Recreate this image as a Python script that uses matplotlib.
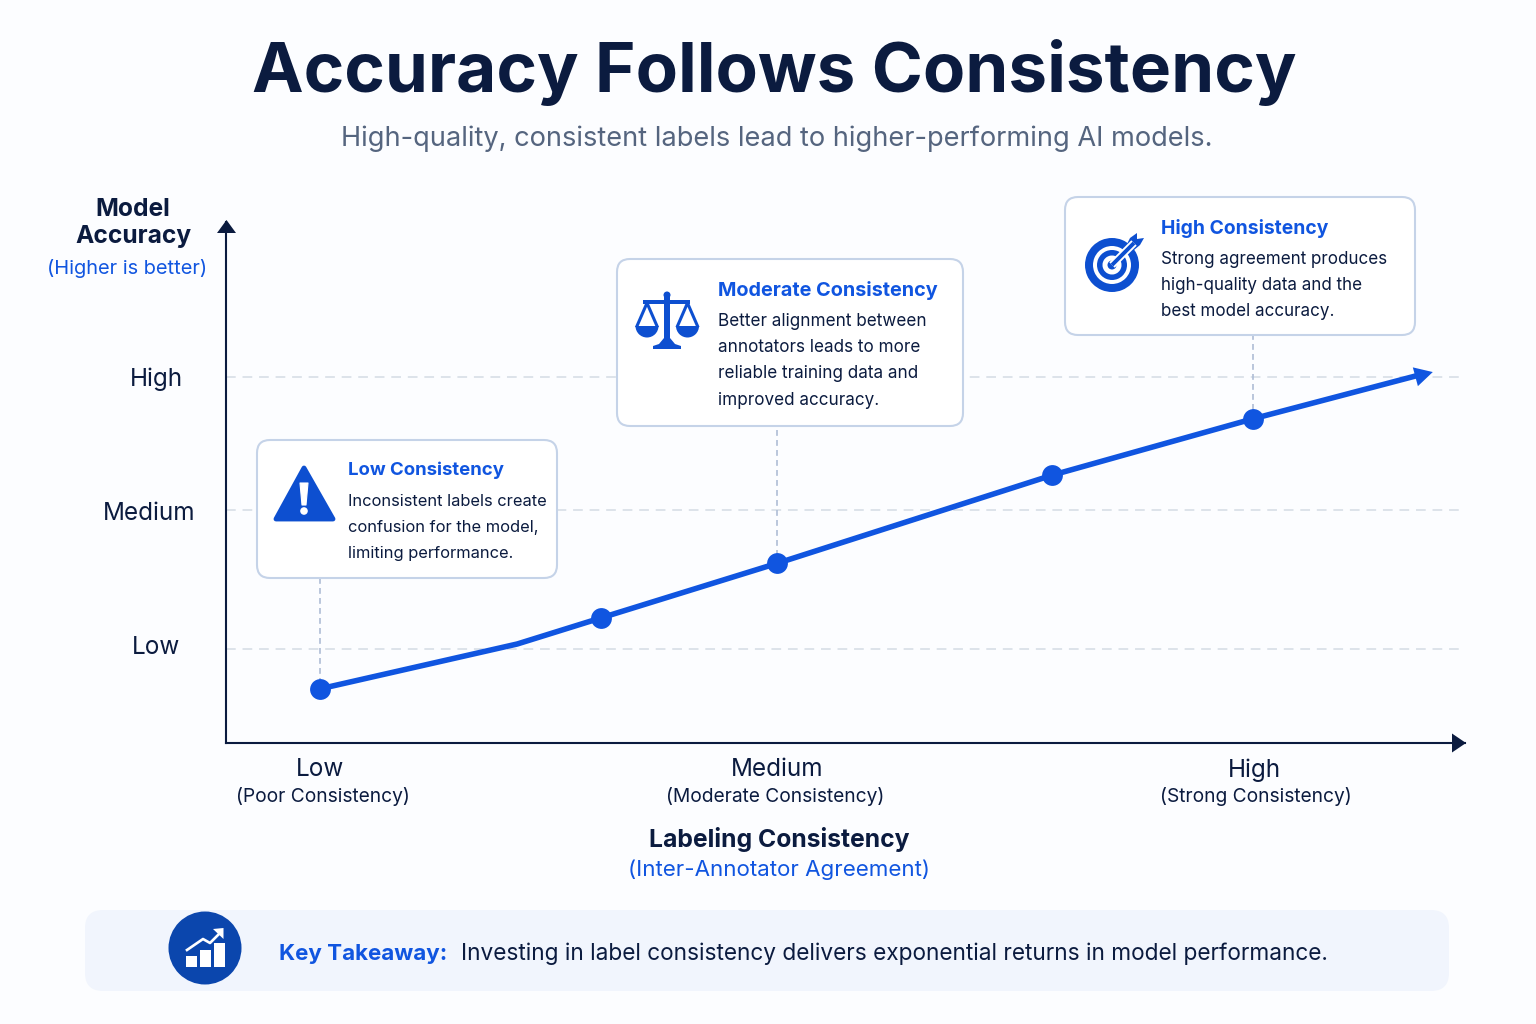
import matplotlib
matplotlib.use('Agg')
import numpy as np
import matplotlib.pyplot as plt
from matplotlib.patches import FancyBboxPatch, Polygon, Circle, Wedge, Rectangle

plt.rcParams['font.family'] = ['Inter', 'DejaVu Sans']

# Valores (escala 0-100 nos dois eixos)
line_x = [7.6, 23.5, 30.25, 44.5, 66.67, 82.85, 97.4]
line_y = [10.4, 19.0, 24.0, 34.5, 51.4, 62.2, 71.2]
marker_x = [7.6, 30.25, 44.5, 66.67, 82.85]
marker_y = [10.4, 24.0, 34.5, 51.4, 62.2]

x_ticks = [7.6, 44.5, 82.85]
x_labels = ['Low', 'Medium', 'High']
x_sublabels = ['(Poor Consistency)', '(Moderate Consistency)', '(Strong Consistency)']
y_ticks = [18.0, 44.7, 70.2]
y_labels = ['Low', 'Medium', 'High']

callout_x = [7.6, 44.5, 82.85]
callout_y = [10.4, 34.5, 62.2]
callout_top = [31.7, 60.0, 78.5]

callout_titles = ['Low Consistency', 'Moderate Consistency', 'High Consistency']
callout_bodies = [
    ['Inconsistent labels create', 'confusion for the model,', 'limiting performance.'],
    ['Better alignment between', 'annotators leads to more', 'reliable training data and', 'improved accuracy.'],
    ['Strong agreement produces', 'high-quality data and the', 'best model accuracy.'],
]

BG = '#fcfdff'
NAVY = '#0b1b3f'
BLUE = '#1055e0'
ICON = '#0d4fd0'
BORDER = '#c5d3e8'
GRID = '#dde3ea'

fig = plt.figure(figsize=(15.36, 10.24), dpi=100, facecolor=BG)

# Eixos do gráfico
W, H = 1536, 1024
ax = fig.add_axes([226 / W, 1 - 743 / H, (1465 - 226) / W, (743 - 222) / H])
ax.set_xlim(0, 100)
ax.set_ylim(0, 100)
ax.patch.set_alpha(0)
for s in ['top', 'right']:
    ax.spines[s].set_visible(False)
for s in ['left', 'bottom']:
    ax.spines[s].set_color(NAVY)
    ax.spines[s].set_linewidth(1.5)
ax.set_xticks([])
ax.set_yticks([])

for yt in y_ticks:
    ax.axhline(yt, color=GRID, lw=1.4, dashes=(5, 3.5), zorder=1)
for cx, cy, ct in zip(callout_x, callout_y, callout_top):
    ax.plot([cx, cx], [ct, cy], color='#aebdd6', lw=1.2, dashes=(3.5, 2.5), zorder=1)

ax.plot(line_x[:-1] + [96.1], line_y[:-1] + [70.5], color=BLUE, lw=4, zorder=3,
        solid_capstyle='butt')
ax.annotate('', xy=(line_x[-1], line_y[-1]), xytext=(96.0, line_y[-1] - 0.9),
            arrowprops=dict(arrowstyle='-|>,head_length=0.65,head_width=0.35', color=BLUE,
                            mutation_scale=20, lw=0, shrinkA=0, shrinkB=0), zorder=3)
ax.plot(marker_x, marker_y, 'o', color=BLUE, ms=15, mec='none', zorder=4)

# Camada em pixels para caixas, ícones e textos
ov = fig.add_axes([0, 0, 1, 1])
ov.set_xlim(0, W)
ov.set_ylim(H, 0)
ov.axis('off')
ov.patch.set_alpha(0)

# pontas dos eixos
ov.add_patch(Polygon([(226.5, 220), (217, 233), (236, 233)], closed=True, fc=NAVY, ec='none'))
ov.add_patch(Polygon([(1466, 743), (1452, 733.5), (1452, 752.5)], closed=True, fc=NAVY, ec='none'))


def txt(x, y, s, size, color=NAVY, weight='normal', ha='center'):
    ov.text(x, y, s, fontsize=size, color=color, fontweight=weight, ha=ha, va='center')


def box(x0, y0, x1, y1):
    ov.add_patch(FancyBboxPatch((x0 + 12, y0 + 12), x1 - x0 - 24, y1 - y0 - 24,
                                boxstyle='round,pad=12,rounding_size=13',
                                fc='white', ec=BORDER, lw=1.5))


txt(774, 73, 'Accuracy Follows Consistency', 49.8, weight='bold')
txt(777, 139, 'High-quality, consistent labels lead to higher-performing AI models.', 19.6,
    color='#55657f')

txt(133, 209, 'Model', 17.7, weight='bold')
txt(133, 237, 'Accuracy', 17.7, weight='bold')
txt(127, 268, '(Higher is better)', 14.4, color=BLUE)

for lab, xc, yc in zip(y_labels, [156.5, 149, 156.5], [647, 513, 379]):
    txt(xc, yc, lab, 17.5)
for xt, lab, sub, dx, dl in zip(x_ticks, x_labels, x_sublabels, [3, -2, 3], [0, 0, 2]):
    px = 226 + xt * 12.39
    txt(px + dl, 770, lab, 17.5)
    txt(px + dx, 796, sub, 13.8)

txt(779, 839, 'Labeling Consistency', 17.8, weight='bold')
txt(779, 870, '(Inter-Annotator Agreement)', 16.1, color=BLUE)

# Caixas de texto
boxes = [(257, 440, 557, 578), (617, 259, 963, 426), (1065, 197, 1415, 335)]
text_x = [348, 718, 1161]
title_y = [470, 290, 228]
title_size = [13.4, 14.3, 13.9]
body_size = [11.85, 12.3, 12.25]
for n, (b, tx, ty, title, body) in enumerate(zip(boxes, text_x, title_y, callout_titles, callout_bodies)):
    box(*b)
    txt(tx, ty, title, title_size[n], color=BLUE, weight='bold', ha='left')
    for i, line in enumerate(body):
        txt(tx, ty + 31 + i * 26.4, line, body_size[n], ha='left')

# Ícone: triângulo de alerta
ov.add_patch(Polygon([(304, 468), (276, 519), (333, 519)], closed=True, fc=ICON, ec=ICON,
                     lw=3.5, joinstyle='round'))
ov.add_patch(Polygon([(300, 483), (308, 483), (306, 505), (302, 505)], closed=True, fc='white',
                     ec='white', lw=0.8, joinstyle='round'))
ov.add_patch(Circle((304, 511), 3.8, fc='white', ec='none'))

# Ícone: balança
ov.add_patch(Rectangle((664, 295), 6, 48, fc=ICON, ec='none'))
ov.add_patch(Circle((667, 295), 3.5, fc=ICON, ec='none'))
ov.add_patch(Rectangle((643, 299.5), 47, 4, fc=ICON, ec='none'))
ov.add_patch(Polygon([(664, 338), (670, 338), (675, 344), (681, 346), (681, 349), (653, 349),
                      (653, 346), (659, 344)], closed=True, fc=ICON, ec='none'))
for pan_x in [647, 687.5]:
    ov.add_patch(Wedge((pan_x, 326), 11.5, 0, 180, fc=ICON, ec='none'))
    ov.plot([pan_x - 10, pan_x, pan_x + 10], [326, 303, 326], color=ICON, lw=2.2)

# Ícone: alvo
tc = (1112, 265)
ov.add_patch(Wedge(tc, 27, 0, 360, width=8, fc=ICON, ec='none'))
ov.add_patch(Wedge(tc, 15, 0, 360, width=5.5, fc=ICON, ec='none'))
ov.add_patch(Circle(tc, 4.5, fc=ICON, ec='none'))
ov.plot([1112, 1134], [265, 243], color='white', lw=5.5, solid_capstyle='butt')
ov.plot([1112, 1134], [265, 243], color=ICON, lw=2.8, solid_capstyle='butt')
ov.add_patch(Polygon([(1127, 244), (1130, 238), (1137, 233), (1137, 239), (1144, 238),
                      (1140, 245), (1134, 250)], closed=True, fc=ICON, ec='none'))

# Faixa inferior
ov.add_patch(FancyBboxPatch((101, 926), 1332, 49, boxstyle='round,pad=16,rounding_size=18',
                            fc='#f1f5fd', ec='none'))
ov.add_patch(Circle((205, 948), 36.5, fc='#0b46ad', ec='none'))
for bx, by in zip([186, 200, 214], [956, 950, 943]):
    ov.add_patch(Rectangle((bx, by), 10.5, 967 - by, fc='white', ec='none'))
ov.plot([187, 203, 210, 220], [950, 939, 943, 933], color='white', lw=1.9)
ov.add_patch(Polygon([(213, 929), (223.5, 928), (223.5, 939)], closed=True, fc='white', ec='none'))

txt(279, 954, 'Key Takeaway:', 16.1, color=BLUE, weight='bold', ha='left')
txt(461, 954, 'Investing in label consistency delivers exponential returns in model performance.',
    16.3, ha='left')

fig.savefig('out.png', dpi=100, facecolor=BG)
